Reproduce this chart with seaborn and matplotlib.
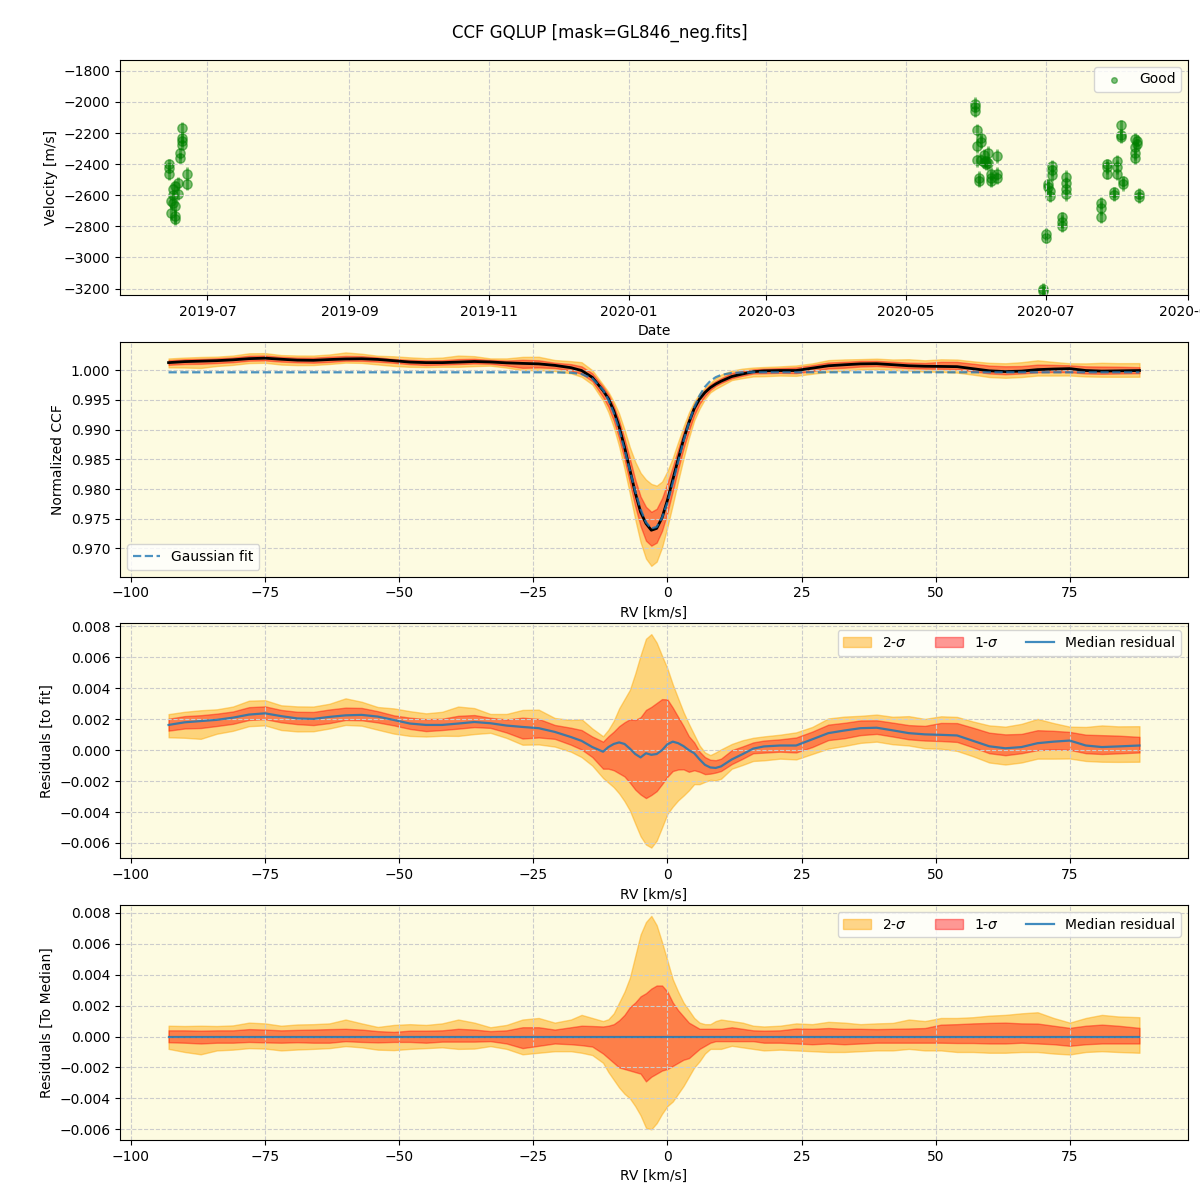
import numpy as np
import pandas as pd
import seaborn as sns
import matplotlib.pyplot as plt

plt.rcParams["figure.figsize"] = (12, 12)
BG = "#fdfbe1"

# ---- top panel: RV time series ("Good" points) ----
obs_dates = [
    "2019-06-14", "2019-06-14", "2019-06-14", "2019-06-15", "2019-06-15",
    "2019-06-16", "2019-06-16", "2019-06-16", "2019-06-17", "2019-06-17", "2019-06-17", "2019-06-17",
    "2019-06-18", "2019-06-18", "2019-06-19", "2019-06-19",
    "2019-06-20", "2019-06-20", "2019-06-20", "2019-06-20", "2019-06-22", "2019-06-22",
    "2020-05-31", "2020-05-31", "2020-05-31", "2020-06-01", "2020-06-01", "2020-06-01",
    "2020-06-02", "2020-06-02", "2020-06-03", "2020-06-03", "2020-06-03",
    "2020-06-04", "2020-06-04", "2020-06-05", "2020-06-05", "2020-06-06", "2020-06-06",
    "2020-06-07", "2020-06-07", "2020-06-07", "2020-06-10", "2020-06-10", "2020-06-10",
    "2020-06-30", "2020-06-30", "2020-07-01", "2020-07-01", "2020-07-02", "2020-07-02",
    "2020-07-03", "2020-07-03", "2020-07-04", "2020-07-04", "2020-07-04",
    "2020-07-08", "2020-07-08", "2020-07-08", "2020-07-10", "2020-07-10", "2020-07-10", "2020-07-10",
    "2020-07-25", "2020-07-25", "2020-07-25", "2020-07-28", "2020-07-28", "2020-07-28",
    "2020-07-31", "2020-07-31", "2020-08-01", "2020-08-01", "2020-08-01",
    "2020-08-03", "2020-08-03", "2020-08-03", "2020-08-04", "2020-08-04",
    "2020-08-09", "2020-08-09", "2020-08-09", "2020-08-09", "2020-08-10", "2020-08-10",
    "2020-08-11", "2020-08-11",
]
obs_vel = [
    -2400, -2425, -2465, -2640, -2715,
    -2560, -2600, -2650, -2540, -2670, -2735, -2750,
    -2520, -2590, -2330, -2360,
    -2170, -2230, -2250, -2275, -2460, -2530,
    -2010, -2030, -2060, -2180, -2280, -2375,
    -2490, -2510, -2230, -2255, -2370,
    -2340, -2385, -2380, -2400, -2330, -2395,
    -2460, -2490, -2510, -2350, -2460, -2490,
    -3200, -3215, -2850, -2875, -2530, -2550,
    -2570, -2605, -2410, -2440, -2470,
    -2740, -2770, -2800, -2480, -2520, -2560, -2590,
    -2650, -2680, -2740, -2400, -2420, -2460,
    -2580, -2600, -2380, -2420, -2460,
    -2150, -2210, -2225, -2510, -2530,
    -2240, -2290, -2330, -2360, -2250, -2270,
    -2590, -2610,
]
obs_err = [
    35, 30, 35, 40, 45,
    40, 35, 40, 35, 40, 45, 40,
    35, 40, 35, 30,
    40, 35, 35, 30, 40, 35,
    40, 35, 35, 40, 45, 40,
    45, 40, 35, 40, 35,
    35, 40, 35, 40, 45, 40,
    40, 45, 40, 45, 40, 40,
    35, 30, 40, 35, 35, 40,
    35, 40, 40, 35, 40,
    35, 40, 35, 45, 40, 40, 45,
    40, 45, 40, 35, 40, 35,
    35, 40, 40, 45, 40,
    35, 35, 40, 35, 40,
    40, 40, 45, 40, 35, 35,
    35, 40,
]

# ---- CCF panels (RV grid in km/s) ----
rv = [
    -93, -90, -87, -84, -81, -78, -75, -72, -69, -66, -63, -60,
    -57, -54, -51, -48, -45, -42, -39, -36, -33, -30, -27, -24,
    -21, -18, -16, -14, -12, -11, -10, -9,
    -8, -7, -6, -5, -4, -3, -2, -1,
    0, 1, 2, 3, 4, 5, 6, 7,
    8, 9, 10, 12, 14, 16, 18, 21,
    24, 27, 30, 33, 36, 39, 42, 45, 48, 51, 54, 57,
    60, 63, 66, 69, 72, 75, 78, 81, 84, 88,
]
gauss_fit = [
    0.99966, 0.99966, 0.99966, 0.99966, 0.99966, 0.99966, 0.99966, 0.99966, 0.99966, 0.99966, 0.99966, 0.99966,
    0.99966, 0.99966, 0.99966, 0.99966, 0.99966, 0.99966, 0.99966, 0.99966, 0.99966, 0.99966, 0.99966, 0.99966,
    0.99965, 0.99959, 0.99936, 0.99861, 0.99669, 0.99503, 0.99280, 0.98999,
    0.98669, 0.98313, 0.97964, 0.97660, 0.97440, 0.97336, 0.97362, 0.97516,
    0.97773, 0.98101, 0.98457, 0.98806, 0.99117, 0.99376, 0.99576, 0.99721,
    0.99820, 0.99883, 0.99921, 0.99955, 0.99964, 0.99966, 0.99966, 0.99966,
    0.99966, 0.99966, 0.99966, 0.99966, 0.99966, 0.99966, 0.99966, 0.99966, 0.99966, 0.99966, 0.99966, 0.99966,
    0.99966, 0.99966, 0.99966, 0.99966, 0.99966, 0.99966, 0.99966, 0.99966, 0.99966, 0.99966,
]
# median residual to the fit
resid_med = [
    0.00163, 0.00180, 0.00188, 0.00196, 0.00210, 0.00230, 0.00238, 0.00220, 0.00205, 0.00202, 0.00215, 0.00225,
    0.00228, 0.00217, 0.00195, 0.00172, 0.00163, 0.00163, 0.00172, 0.00182, 0.00174, 0.00159, 0.00150, 0.00142,
    0.00118, 0.00085, 0.00060, 0.00020, -0.00010, 0.00020, 0.00040, 0.00050,
    0.00040, 0.00010, -0.00025, -0.00047, -0.00020, -0.00030, -0.00025, 0.00000,
    0.00038, 0.00055, 0.00045, 0.00026, 0.00000, -0.00020, -0.00060, -0.00095,
    -0.00112, -0.00115, -0.00105, -0.00060, -0.00026, 0.00010, 0.00024, 0.00030,
    0.00030, 0.00070, 0.00110, 0.00127, 0.00142, 0.00145, 0.00128, 0.00110, 0.00102, 0.00099, 0.00095, 0.00060,
    0.00025, 0.00012, 0.00020, 0.00045, 0.00055, 0.00062, 0.00030, 0.00020, 0.00024, 0.00030,
]
# percentile bands relative to the median (2-sigma / 1-sigma, upper / lower)
up2 = [
    0.00070, 0.00068, 0.00070, 0.00068, 0.00072, 0.00090, 0.00085, 0.00070, 0.00078, 0.00080, 0.00085, 0.00110,
    0.00085, 0.00062, 0.00075, 0.00080, 0.00075, 0.00085, 0.00110, 0.00090, 0.00060, 0.00075, 0.00110, 0.00120,
    0.00090, 0.00110, 0.00140, 0.00120, 0.00100, 0.00112, 0.00150, 0.00220,
    0.00290, 0.00380, 0.00520, 0.00660, 0.00740, 0.00780, 0.00720, 0.00610,
    0.00490, 0.00370, 0.00290, 0.00220, 0.00170, 0.00120, 0.00090, 0.00080,
    0.00080, 0.00100, 0.00110, 0.00100, 0.00090, 0.00070, 0.00065, 0.00070,
    0.00085, 0.00080, 0.00095, 0.00090, 0.00080, 0.00085, 0.00088, 0.00110, 0.00100, 0.00120, 0.00120, 0.00125,
    0.00135, 0.00140, 0.00150, 0.00157, 0.00120, 0.00090, 0.00120, 0.00140, 0.00130, 0.00125,
]
up1 = [
    0.00040, 0.00040, 0.00038, 0.00040, 0.00040, 0.00048, 0.00045, 0.00040, 0.00043, 0.00045, 0.00048, 0.00050,
    0.00045, 0.00035, 0.00030, 0.00038, 0.00038, 0.00040, 0.00050, 0.00045, 0.00035, 0.00040, 0.00060, 0.00060,
    0.00045, 0.00060, 0.00070, 0.00068, 0.00065, 0.00070, 0.00080, 0.00105,
    0.00140, 0.00190, 0.00220, 0.00260, 0.00280, 0.00310, 0.00330, 0.00330,
    0.00290, 0.00220, 0.00170, 0.00130, 0.00090, 0.00070, 0.00050, 0.00050,
    0.00050, 0.00050, 0.00050, 0.00060, 0.00050, 0.00040, 0.00038, 0.00040,
    0.00052, 0.00050, 0.00055, 0.00050, 0.00050, 0.00048, 0.00050, 0.00052, 0.00055, 0.00077, 0.00080, 0.00085,
    0.00088, 0.00090, 0.00085, 0.00084, 0.00070, 0.00056, 0.00070, 0.00077, 0.00070, 0.00056,
]
lo1 = [
    -0.00037, -0.00040, -0.00045, -0.00040, -0.00040, -0.00035, -0.00038, -0.00040, -0.00037, -0.00040, -0.00040, -0.00030,
    -0.00035, -0.00038, -0.00035, -0.00035, -0.00040, -0.00033, -0.00033, -0.00033, -0.00030, -0.00045, -0.00075, -0.00060,
    -0.00045, -0.00050, -0.00056, -0.00065, -0.00110, -0.00140, -0.00170, -0.00200,
    -0.00210, -0.00220, -0.00230, -0.00240, -0.00290, -0.00260, -0.00240, -0.00220,
    -0.00210, -0.00190, -0.00170, -0.00150, -0.00140, -0.00110, -0.00080, -0.00060,
    -0.00040, -0.00030, -0.00030, -0.00030, -0.00030, -0.00030, -0.00040, -0.00040,
    -0.00045, -0.00050, -0.00045, -0.00050, -0.00045, -0.00040, -0.00040, -0.00040, -0.00040, -0.00040, -0.00042, -0.00042,
    -0.00045, -0.00045, -0.00040, -0.00045, -0.00050, -0.00060, -0.00050, -0.00045, -0.00045, -0.00045,
]
lo2 = [
    -0.00080, -0.00100, -0.00115, -0.00090, -0.00085, -0.00075, -0.00078, -0.00090, -0.00084, -0.00080, -0.00075, -0.00062,
    -0.00070, -0.00085, -0.00088, -0.00080, -0.00075, -0.00070, -0.00080, -0.00078, -0.00062, -0.00080, -0.00115, -0.00105,
    -0.00095, -0.00095, -0.00105, -0.00120, -0.00170, -0.00230, -0.00280, -0.00330,
    -0.00370, -0.00400, -0.00450, -0.00510, -0.00590, -0.00600, -0.00560, -0.00500,
    -0.00450, -0.00420, -0.00370, -0.00320, -0.00260, -0.00200, -0.00160, -0.00110,
    -0.00080, -0.00080, -0.00080, -0.00060, -0.00070, -0.00080, -0.00090, -0.00085,
    -0.00090, -0.00095, -0.00100, -0.00100, -0.00095, -0.00090, -0.00090, -0.00080, -0.00090, -0.00090, -0.00100, -0.00100,
    -0.00105, -0.00105, -0.00100, -0.00100, -0.00110, -0.00116, -0.00100, -0.00095, -0.00100, -0.00105,
]


def style(ax):
    ax.set_facecolor(BG)
    ax.grid(True, linestyle="--", color="#cccccc", linewidth=0.8)


def bands(ax, x, base, labels=False):
    ax.fill_between(x, base + np.array(lo2), base + np.array(up2), color="orange", alpha=0.45,
                    label="2-$\\sigma$" if labels else None)
    ax.fill_between(x, base + np.array(lo1), base + np.array(up1), color="red", alpha=0.4,
                    label="1-$\\sigma$" if labels else None)


x = np.array(rv, dtype=float)
fit = np.array(gauss_fit)
med = np.array(resid_med)

fig, axes = plt.subplots(4, 1)
fig.subplots_adjust(left=0.10, right=0.99, top=0.95, bottom=0.05, hspace=0.2)

# panel 1
ax = axes[0]
style(ax)
dates = pd.to_datetime(obs_dates)
ax.errorbar(dates, obs_vel, yerr=obs_err, fmt="none", ecolor="green", alpha=0.5, elinewidth=2)
sns.scatterplot(x=dates, y=obs_vel, ax=ax, color="green", alpha=0.5, s=45,
                edgecolor="green", linewidth=1, label="Good")
ax.legend(loc="upper right", markerscale=0.6)
ax.set(xlabel="Date", ylabel="Velocity [m/s]", ylim=(-3240, -1730))

# panel 2
ax = axes[1]
style(ax)
bands(ax, x, fit + med)
sns.lineplot(x=x, y=fit + med, ax=ax, color="black", linewidth=2)
sns.lineplot(x=x, y=fit, ax=ax, color="tab:blue", alpha=0.8, linestyle="--", linewidth=1.6,
             label="Gaussian fit")
ax.legend(loc="lower left")
ax.set(xlabel="RV [km/s]", ylabel="Normalized CCF")

# panel 3
ax = axes[2]
style(ax)
bands(ax, x, med, labels=True)
sns.lineplot(x=x, y=med, ax=ax, color="tab:blue", alpha=0.85, linewidth=1.6, label="Median residual")
ax.legend(loc="upper right", ncol=3)
ax.set(xlabel="RV [km/s]", ylabel="Residuals [to fit]")

# panel 4
ax = axes[3]
style(ax)
zero = np.zeros_like(x)
bands(ax, x, zero, labels=True)
sns.lineplot(x=x, y=zero, ax=ax, color="tab:blue", alpha=0.85, linewidth=1.6, label="Median residual")
ax.legend(loc="upper right", ncol=3)
ax.set(xlabel="RV [km/s]", ylabel="Residuals [To Median]")

fig.suptitle("CCF GQLUP [mask=GL846_neg.fits]")
plt.savefig("out.png", dpi=100)
